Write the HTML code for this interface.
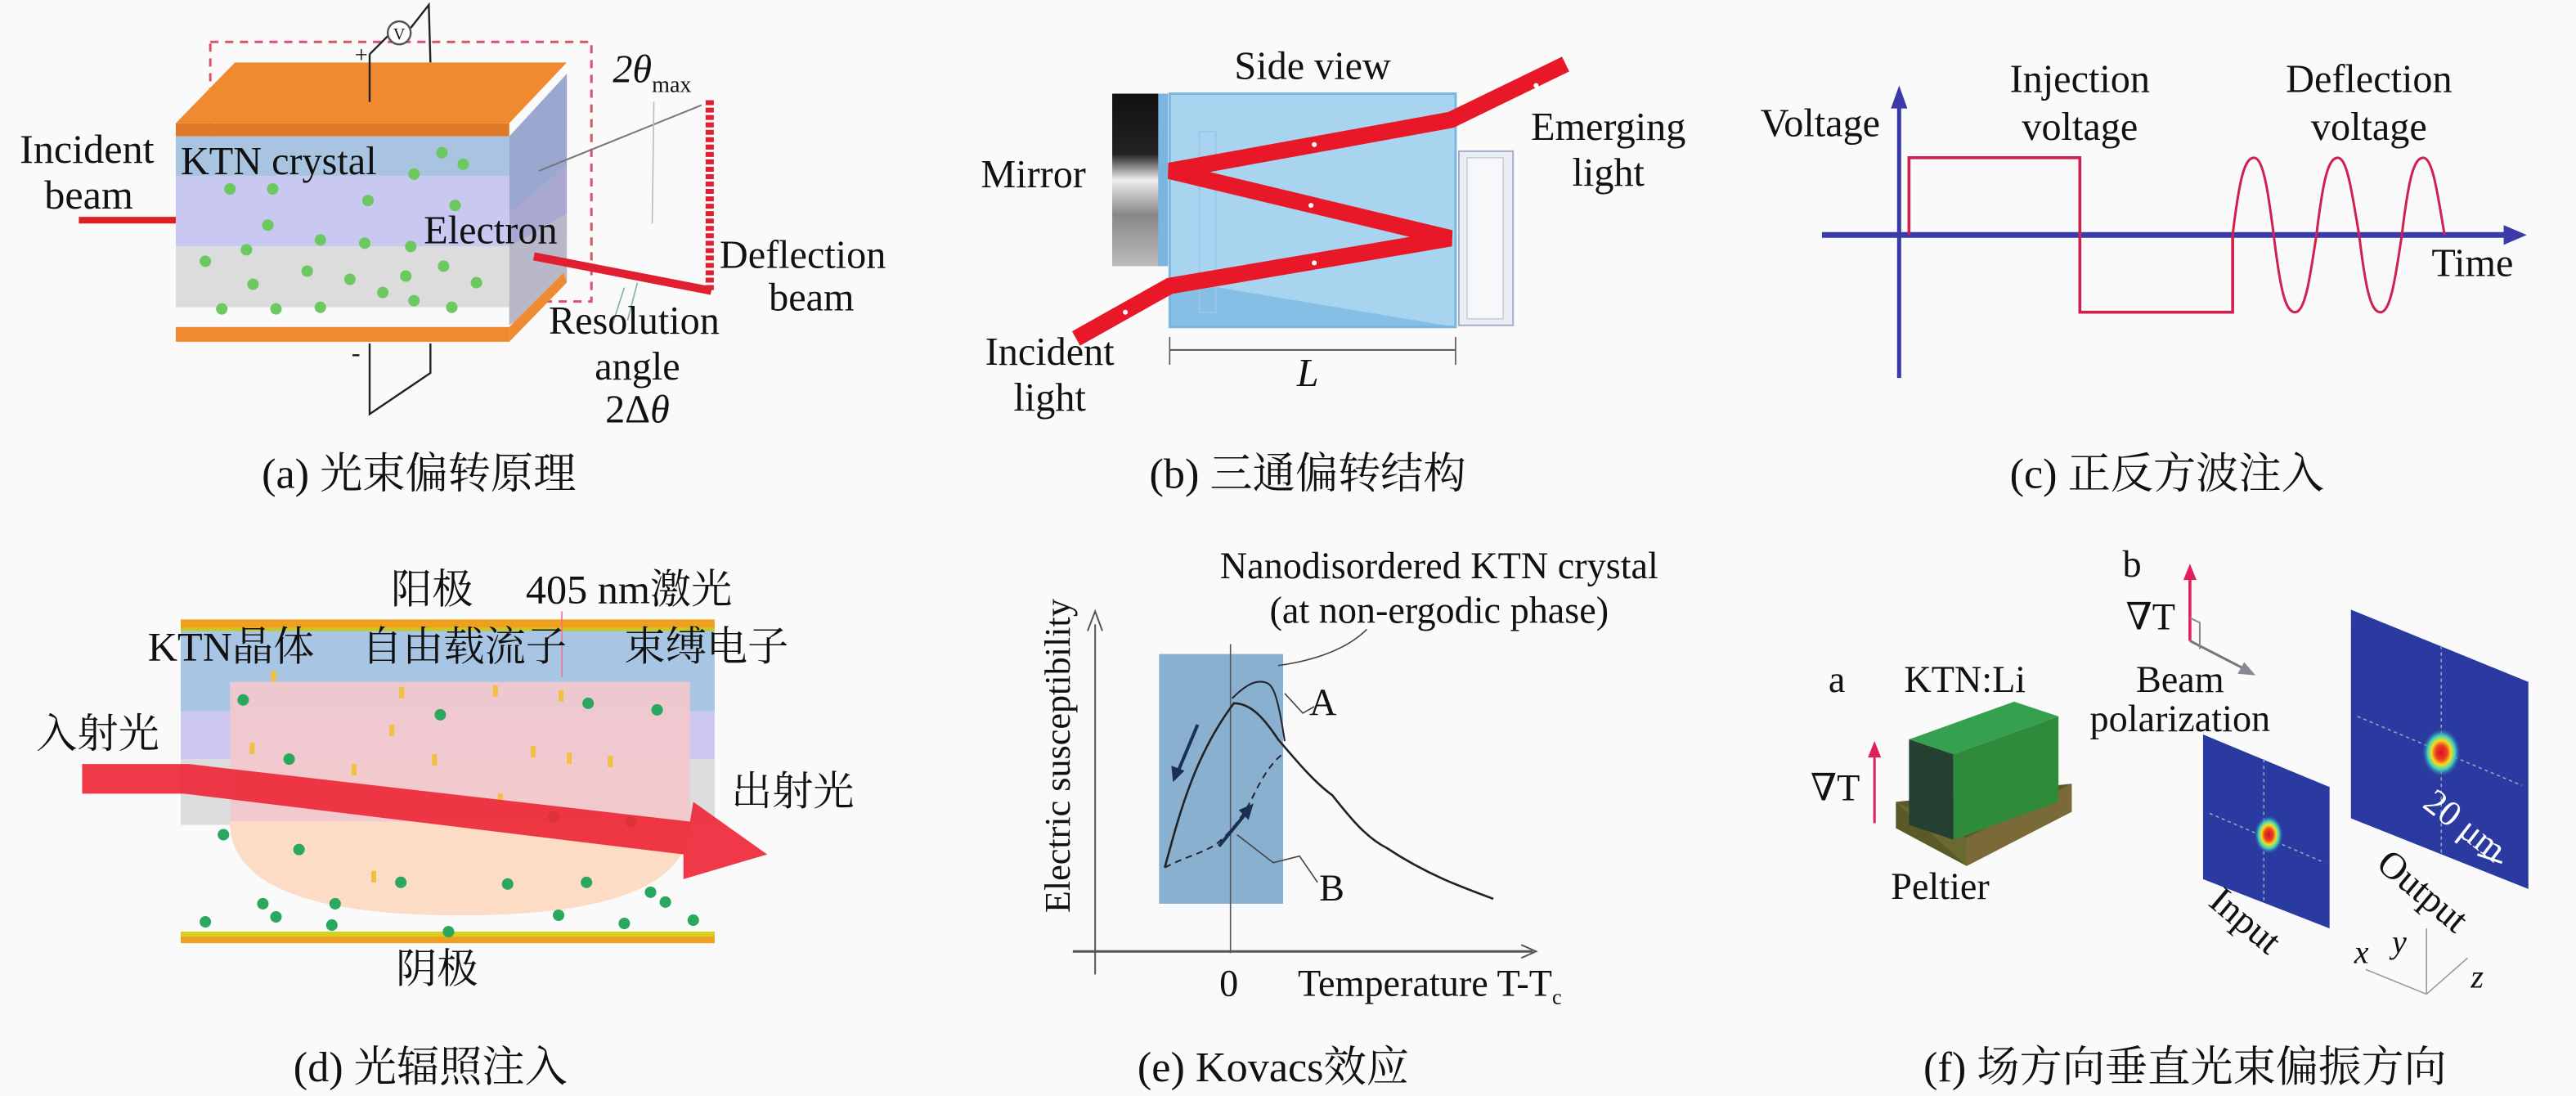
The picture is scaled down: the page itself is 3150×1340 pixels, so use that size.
<!DOCTYPE html>
<html><head><meta charset="utf-8"><style>
html,body{margin:0;padding:0;background:#fafafa;}
svg{display:block;font-family:"Liberation Serif","Times New Roman","DejaVu Serif","Noto Serif CJK SC",serif;}
svg text{font-family:"Liberation Serif","Times New Roman","DejaVu Serif","Noto Serif CJK SC",serif !important;fill:#111;}
</style></head><body>
<svg width="3150" height="1340" viewBox="0 0 1568 667" preserveAspectRatio="none" xmlns="http://www.w3.org/2000/svg" font-family="Liberation Serif, Times New Roman, Noto Serif CJK SC, serif">
<rect width="1568" height="667" fill="#fafafa"/>
<defs>
<radialGradient id="spot"><stop offset="0" stop-color="#d0102a"/><stop offset="0.3" stop-color="#f04020"/><stop offset="0.5" stop-color="#f0e020"/><stop offset="0.7" stop-color="#40d0c0"/><stop offset="1" stop-color="#2a3aa0" stop-opacity="0"/></radialGradient>
<linearGradient id="mir" x1="0" y1="0" x2="0" y2="1"><stop offset="0" stop-color="#111"/><stop offset="0.35" stop-color="#222"/><stop offset="0.5" stop-color="#eee"/><stop offset="0.7" stop-color="#888"/><stop offset="1" stop-color="#bbb"/></linearGradient>
</defs>

<!-- ===== Panel a ===== -->
<rect x="128" y="25.5" width="232" height="158" fill="none" stroke="#e0506a" stroke-width="1.5" stroke-dasharray="5,4"/>
<polygon points="107,75 143,38 345,38 310,75" fill="#f08a30"/>
<rect x="107" y="75" width="203" height="8" fill="#e07a28"/>
<polygon points="310,83 345,45 345,172 310,198" fill="#a8a8d0"/>
<polygon points="310,83 345,45 345,100 310,130" fill="#9aa8d0"/>
<rect x="107" y="83" width="203" height="24" fill="#a8c4e0"/>
<rect x="107" y="107" width="203" height="43" fill="#c8c8f0"/>
<rect x="107" y="150" width="203" height="37" fill="#dcdcdc"/>
<polygon points="310,150 345,130 345,172 310,198" fill="#b8b8c8"/>
<rect x="107" y="199" width="203" height="9" fill="#f08a30"/>
<polygon points="310,199 343,166 345,172 310,208" fill="#f08a30"/>
<g fill="#6cc860">
<circle cx="140" cy="115" r="3.5"/><circle cx="166" cy="115" r="3.5"/><circle cx="224" cy="122" r="3.5"/><circle cx="163" cy="137" r="3.5"/><circle cx="277" cy="125" r="3.5"/><circle cx="269" cy="93" r="3.5"/><circle cx="282" cy="100" r="3.5"/><circle cx="252" cy="106" r="3.5"/>
<circle cx="195" cy="146" r="3.5"/><circle cx="222" cy="148" r="3.5"/><circle cx="250" cy="150" r="3.5"/><circle cx="150" cy="152" r="3.5"/><circle cx="125" cy="159" r="3.5"/>
<circle cx="187" cy="165" r="3.5"/><circle cx="213" cy="170" r="3.5"/><circle cx="247" cy="168" r="3.5"/><circle cx="270" cy="162" r="3.5"/><circle cx="290" cy="172" r="3.5"/><circle cx="154" cy="173" r="3.5"/>
<circle cx="233" cy="178" r="3.5"/><circle cx="252" cy="183" r="3.5"/><circle cx="135" cy="188" r="3.5"/><circle cx="168" cy="188" r="3.5"/><circle cx="195" cy="187" r="3.5"/><circle cx="275" cy="187" r="3.5"/>
</g>
<line x1="225" y1="62" x2="225" y2="33" stroke="#222" stroke-width="1.2"/>
<line x1="225" y1="33" x2="236" y2="22" stroke="#222" stroke-width="1.2"/>
<circle cx="243" cy="20" r="7" fill="#fff" stroke="#555" stroke-width="1.2"/>
<text x="243" y="24" font-size="10" text-anchor="middle">V</text>
<polyline points="250,17 261,3 262,38" fill="none" stroke="#222" stroke-width="1.2"/>
<text x="216" y="38" font-size="14">+</text>
<polyline points="225,209 225,252 262,227 262,209" fill="none" stroke="#222" stroke-width="1.2"/>
<text x="214" y="220" font-size="16">-</text>
<line x1="48" y1="134" x2="107" y2="134" stroke="#e02020" stroke-width="4"/>
<line x1="328" y1="104" x2="427" y2="64" stroke="#777" stroke-width="1"/>
<line x1="398" y1="62" x2="397" y2="136" stroke="#bbb" stroke-width="0.8"/>
<line x1="325" y1="156" x2="433" y2="177" stroke="#e02030" stroke-width="5"/>
<line x1="432" y1="61" x2="432" y2="177" stroke="#e02030" stroke-width="5" stroke-dasharray="3,1.5"/>
<line x1="380" y1="175" x2="372" y2="200" stroke="#8aa" stroke-width="0.8"/>
<line x1="388" y1="172" x2="382" y2="195" stroke="#8aa" stroke-width="0.8"/>
<text x="12" y="99" font-size="25">Incident</text>
<text x="27" y="127" font-size="25">beam</text>
<text x="110" y="106" font-size="24">KTN crystal</text>
<text x="258" y="148" font-size="24">Electron</text>
<text x="373" y="50" font-size="24" font-style="italic">2θ<tspan font-size="14" font-style="normal" dy="6">max</tspan></text>
<text x="438" y="163" font-size="24">Deflection</text>
<text x="468" y="189" font-size="24">beam</text>
<text x="386" y="203" font-size="24" text-anchor="middle">Resolution</text>
<text x="388" y="231" font-size="24" text-anchor="middle">angle</text>
<text x="388" y="257" font-size="24" text-anchor="middle">2Δ<tspan font-style="italic">θ</tspan></text>
<text x="255" y="297" font-size="26" text-anchor="middle">(a) 光束偏转原理</text>

<!-- ===== Panel b ===== -->
<rect x="677" y="57" width="31" height="105" fill="url(#mir)"/>
<rect x="705" y="57" width="6" height="105" fill="#7ab4e0"/>
<rect x="712" y="57" width="174" height="142" fill="#a8d4f0" stroke="#7ab8e0" stroke-width="1.5"/>
<polygon points="712,170 886,199 712,199" fill="#6fb0e0" opacity="0.6"/>
<rect x="730" y="80" width="10" height="110" fill="none" stroke="#9cc6e6" stroke-width="1"/>
<rect x="888" y="92" width="33" height="106" fill="#e8eef2" stroke="#aac" stroke-width="1"/>
<rect x="893" y="96" width="22" height="98" fill="#f6f8fa" stroke="#ccd" stroke-width="0.8"/>
<polyline points="655,206 712,174 883,145 712,104 883,73 953,39" fill="none" stroke="#e81828" stroke-width="10" stroke-linejoin="miter"/>
<g fill="#fff"><circle cx="685" cy="190" r="1.5"/><circle cx="800" cy="160" r="1.5"/><circle cx="798" cy="125" r="1.5"/><circle cx="800" cy="88" r="1.5"/><circle cx="935" cy="52" r="1.5"/></g>
<line x1="712" y1="213" x2="886" y2="213" stroke="#555" stroke-width="1"/>
<line x1="712" y1="205" x2="712" y2="222" stroke="#555" stroke-width="0.8"/>
<line x1="886" y1="205" x2="886" y2="222" stroke="#555" stroke-width="0.8"/>
<text x="799" y="48" font-size="24" text-anchor="middle">Side view</text>
<text x="629" y="114" font-size="24" text-anchor="middle">Mirror</text>
<text x="979" y="85" font-size="24" text-anchor="middle">Emerging</text>
<text x="979" y="113" font-size="24" text-anchor="middle">light</text>
<text x="639" y="222" font-size="24" text-anchor="middle">Incident</text>
<text x="639" y="250" font-size="24" text-anchor="middle">light</text>
<text x="796" y="235" font-size="24" text-anchor="middle" font-style="italic">L</text>
<text x="796" y="297" font-size="26" text-anchor="middle">(b) 三通偏转结构</text>

<!-- ===== Panel c ===== -->
<line x1="1156" y1="64" x2="1156" y2="230" stroke="#3a3aa8" stroke-width="2.5"/>
<polygon points="1156,52 1151,66 1161,66" fill="#3a3aa8"/>
<line x1="1109" y1="143" x2="1528" y2="143" stroke="#3a3aa8" stroke-width="3.5"/>
<polygon points="1538,143 1524,137 1524,149" fill="#3a3aa8"/>
<polyline points="1162,143 1162,96 1266,96 1266,190 1359,190 1359,143" fill="none" stroke="#d02050" stroke-width="1.8"/>
<path d="M1359,143 C1363,110 1366,96 1372,96 C1378,96 1381,120 1384,143 C1388,176 1391,190 1397,190 C1403,190 1406,170 1410,143 C1414,110 1417,96 1423,96 C1429,96 1432,120 1436,143 C1440,176 1443,190 1449,190 C1455,190 1458,170 1462,143 C1466,110 1469,96 1475,96 C1481,96 1484,120 1488,143" fill="none" stroke="#d02050" stroke-width="1.5"/>
<text x="1108" y="83" font-size="24" text-anchor="middle">Voltage</text>
<text x="1266" y="56" font-size="24" text-anchor="middle">Injection</text>
<text x="1266" y="85" font-size="24" text-anchor="middle">voltage</text>
<text x="1442" y="56" font-size="24" text-anchor="middle">Deflection</text>
<text x="1442" y="85" font-size="24" text-anchor="middle">voltage</text>
<text x="1505" y="168" font-size="24" text-anchor="middle">Time</text>
<text x="1319" y="297" font-size="26" text-anchor="middle">(c) 正反方波注入</text>

<!-- ===== Panel d ===== -->
<rect x="110" y="377" width="325" height="7" fill="#f0a020"/>
<rect x="110" y="382" width="325" height="2" fill="#c8c820"/>
<rect x="110" y="384" width="325" height="49" fill="#a8c6e4"/>
<rect x="110" y="433" width="325" height="29" fill="#ccc8f0"/>
<rect x="110" y="462" width="325" height="40" fill="#dcdcdc"/>
<path d="M140,415 L420,415 L420,500 Q420,557 280,557 Q140,557 140,500 Z" fill="#f4c8cc" opacity="0.9"/>
<path d="M140,500 L420,500 Q420,557 280,557 Q140,557 140,500 Z" fill="#fcdcc4"/>
<rect x="110" y="567" width="325" height="7" fill="#f0a020"/>
<rect x="110" y="567" width="325" height="3" fill="#d8d020"/>
<g fill="#f0c040"><rect x="165" y="408" width="3" height="7"/><rect x="243" y="418" width="3" height="7"/><rect x="300" y="417" width="3" height="7"/><rect x="340" y="420" width="3" height="7"/><rect x="237" y="441" width="3" height="7"/><rect x="152" y="452" width="3" height="7"/><rect x="263" y="459" width="3" height="7"/><rect x="323" y="454" width="3" height="7"/><rect x="345" y="458" width="3" height="7"/><rect x="370" y="460" width="3" height="7"/><rect x="214" y="465" width="3" height="7"/><rect x="303" y="483" width="3" height="7"/><rect x="226" y="530" width="3" height="7"/></g>
<g fill="#2aa860">
<circle cx="148" cy="426" r="3.5"/><circle cx="268" cy="435" r="3.5"/><circle cx="358" cy="428" r="3.5"/><circle cx="400" cy="432" r="3.5"/><circle cx="176" cy="462" r="3.5"/><circle cx="136" cy="508" r="3.5"/><circle cx="337" cy="497" r="3.5"/><circle cx="384" cy="500" r="3.5"/><circle cx="182" cy="517" r="3.5"/><circle cx="244" cy="537" r="3.5"/><circle cx="309" cy="538" r="3.5"/><circle cx="357" cy="537" r="3.5"/><circle cx="396" cy="543" r="3.5"/><circle cx="160" cy="550" r="3.5"/><circle cx="204" cy="550" r="3.5"/><circle cx="273" cy="567" r="3.5"/><circle cx="125" cy="561" r="3.5"/><circle cx="168" cy="558" r="3.5"/><circle cx="340" cy="557" r="3.5"/><circle cx="380" cy="562" r="3.5"/><circle cx="405" cy="549" r="3.5"/><circle cx="422" cy="560" r="3.5"/><circle cx="202" cy="563" r="3.5"/>
</g>
<polygon points="50,465 115,465 420,500 422,488 467,520 416,535 416,520 112,483 50,483" fill="#ee2838" opacity="0.92"/>
<line x1="342" y1="372" x2="342" y2="412" stroke="#f07090" stroke-width="0.8"/>
<text x="263" y="367" font-size="25" text-anchor="middle">阳极</text>
<text x="320" y="367" font-size="25">405 nm激光</text>
<text x="90" y="402" font-size="25">KTN晶体</text>
<text x="220" y="402" font-size="25">自由载流子</text>
<text x="380" y="402" font-size="25">束缚电子</text>
<text x="22" y="455" font-size="25">入射光</text>
<text x="445" y="490" font-size="25">出射光</text>
<text x="266" y="598" font-size="25" text-anchor="middle">阴极</text>
<text x="262" y="658" font-size="26" text-anchor="middle">(d) 光辐照注入</text>

<!-- ===== Panel e ===== -->
<rect x="705.5" y="398" width="75.5" height="152" fill="#8ab0d0"/>
<line x1="749" y1="392" x2="749" y2="580" stroke="#556" stroke-width="0.8"/>
<line x1="666.6" y1="380" x2="666.6" y2="593" stroke="#555" stroke-width="1"/>
<polyline points="662,384 666.6,372 671,384" fill="none" stroke="#555" stroke-width="1"/>
<line x1="653" y1="579" x2="933" y2="579" stroke="#555" stroke-width="1.5"/>
<polyline points="926,575 935,579 926,583" fill="none" stroke="#555" stroke-width="1"/>
<path d="M709,528 C718,495 727,460 751,428 C762,428 770,438 778,450 C790,464 800,476 811,484 C822,498 832,510 844,516 C868,532 890,540 909,547" fill="none" stroke="#222" stroke-width="1.3"/>
<path d="M750,425 C757,418 763,414 769,415 C774,416 777,418 782,451" fill="none" stroke="#223" stroke-width="1"/>
<path d="M709,528 C720,522 730,520 740,514 C750,506 758,495 764,482 C770,470 776,462 782,458" fill="none" stroke="#223" stroke-width="1" stroke-dasharray="4,3"/>
<line x1="729" y1="441" x2="716" y2="472" stroke="#1a3050" stroke-width="2"/>
<polygon points="714,476 713,466 721,469" fill="#1a3050"/>
<line x1="742" y1="515" x2="760" y2="493" stroke="#1a3050" stroke-width="2"/>
<polygon points="763,489 754,493 760,499" fill="#1a3050"/>
<path d="M832,383 C820,395 800,402 778,405" fill="none" stroke="#444" stroke-width="0.8"/>
<polyline points="782,422 793,434 800,430" fill="none" stroke="#444" stroke-width="0.8"/>
<polyline points="753,508 775,525 791,521 802,537" fill="none" stroke="#444" stroke-width="0.8"/>
<text x="876" y="352" font-size="23" text-anchor="middle">Nanodisordered KTN crystal</text>
<text x="876" y="379" font-size="23" text-anchor="middle">(at non-ergodic phase)</text>
<text x="797" y="435" font-size="23">A</text>
<text x="803" y="548" font-size="23">B</text>
<text x="748" y="606" font-size="23" text-anchor="middle">0</text>
<text x="790" y="606" font-size="23">Temperature T-T<tspan font-size="13" dy="5">c</tspan></text>
<text transform="translate(651,460) rotate(-90)" font-size="22" text-anchor="middle">Electric susceptibility</text>
<text x="775" y="658" font-size="26" text-anchor="middle">(e) Kovacs效应</text>

<!-- ===== Panel f ===== -->
<line x1="1333" y1="350" x2="1333" y2="390" stroke="#e0205a" stroke-width="1.8"/>
<polygon points="1333,343 1329,353 1337,353" fill="#e0205a"/>
<line x1="1333" y1="390" x2="1368" y2="408" stroke="#777" stroke-width="1.5"/>
<polygon points="1373,411 1362,410 1366,403" fill="#889"/>
<polyline points="1333,376 1339,379 1339,395" fill="none" stroke="#888" stroke-width="1"/>
<line x1="1141" y1="458" x2="1141" y2="501" stroke="#e0205a" stroke-width="1.5"/>
<polygon points="1141,451 1137,461 1145,461" fill="#e0205a"/>
<polygon points="1154,488 1261,477 1261,494 1197,527 1154,504" fill="#5a5a28"/>
<polygon points="1154,488 1197,510 1261,477 1261,494 1197,527" fill="#6a6a30"/>
<polygon points="1197,510 1261,477 1261,494 1197,527" fill="#7a6a38"/>
<polygon points="1162,450 1226,427 1253,436 1189,459" fill="#35a050"/>
<polygon points="1189,459 1253,436 1253,488 1189,511" fill="#2f8a3a"/>
<polygon points="1162,450 1189,459 1189,511 1162,502" fill="#234030"/>
<polygon points="1341,447 1418,479 1418,565 1341,535" fill="#2a3aa0"/>
<line x1="1378" y1="462" x2="1378" y2="550" stroke="#8ab" stroke-width="0.8" stroke-dasharray="2,2"/>
<line x1="1345" y1="495" x2="1415" y2="525" stroke="#8ab" stroke-width="0.8" stroke-dasharray="2,2"/>
<ellipse cx="1381" cy="508" rx="9" ry="12" fill="url(#spot)"/>
<polygon points="1431,371 1539,415 1539,541 1431,498" fill="#2a3aa0"/>
<line x1="1486" y1="393" x2="1486" y2="520" stroke="#8ab" stroke-width="0.8" stroke-dasharray="2,2"/>
<line x1="1435" y1="436" x2="1535" y2="478" stroke="#8ab" stroke-width="0.8" stroke-dasharray="2,2"/>
<ellipse cx="1486" cy="458" rx="12" ry="15" fill="url(#spot)"/>
<line x1="1508" y1="520" x2="1523" y2="525" stroke="#fff" stroke-width="1.5"/>
<text transform="translate(1496,508) rotate(38)" font-size="22" text-anchor="middle" style="fill:#fff">20 μm</text>
<text transform="translate(1362,566) rotate(40)" font-size="23" text-anchor="middle">Input</text>
<text transform="translate(1470,548) rotate(40)" font-size="23" text-anchor="middle">Output</text>
<line x1="1477" y1="605" x2="1477" y2="565" stroke="#999" stroke-width="0.8"/>
<line x1="1477" y1="605" x2="1440" y2="590" stroke="#999" stroke-width="0.8"/>
<line x1="1477" y1="605" x2="1502" y2="583" stroke="#999" stroke-width="0.8"/>
<text x="1433" y="586" font-size="20" font-style="italic">x</text>
<text x="1456" y="580" font-size="20" font-style="italic">y</text>
<text x="1504" y="601" font-size="20" font-style="italic">z</text>
<text x="1292" y="351" font-size="23">b</text>
<text x="1294" y="383" font-size="23">∇T</text>
<text x="1113" y="421" font-size="23">a</text>
<text x="1159" y="421" font-size="23">KTN:Li</text>
<text x="1327" y="421" font-size="23" text-anchor="middle">Beam</text>
<text x="1327" y="445" font-size="23" text-anchor="middle">polarization</text>
<text x="1102" y="487" font-size="23">∇T</text>
<text x="1181" y="547" font-size="23" text-anchor="middle">Peltier</text>
<text x="1330" y="658" font-size="26" text-anchor="middle">(f) 场方向垂直光束偏振方向</text>
</svg>
</body></html>
